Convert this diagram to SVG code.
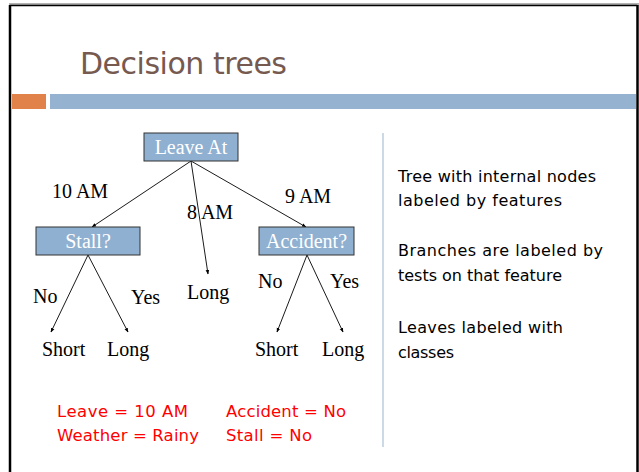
<svg xmlns="http://www.w3.org/2000/svg" width="639" height="472" viewBox="0 0 639 472">
  <style>
    .node rect { fill: #8fb0d0; stroke: #333; stroke-width: 1; }
    .node text { fill: #fff; font-family: "Liberation Serif", serif; font-size: 20px; text-anchor: middle; }
    .lbl { fill: #000; font-family: "Liberation Serif", serif; font-size: 20px; }
    .edge { stroke: #000; stroke-width: 0.9; fill: none; marker-end: url(#arrow); }
    .note { fill: #ff0000; font-family: "DejaVu Sans", sans-serif; font-size: 16.5px; }
    .bullet { fill: #000; font-family: "DejaVu Sans", sans-serif; font-size: 16px; }
  </style>
  <defs>
    <marker id="arrow" viewBox="0 0 10 10" refX="9" refY="5" markerWidth="5" markerHeight="5" orient="auto">
      <path d="M0,1 L10,5 L0,9 z" fill="#000"/>
    </marker>
  </defs>

  <!-- slide background and frame -->
  <rect width="639" height="472" fill="#fff"/>
  <line x1="9" y1="4" x2="639" y2="4" stroke="#999" stroke-width="1.5"/>
  <line x1="10" y1="5" x2="10" y2="472" stroke="#000" stroke-width="2.5"/>
  <line x1="10" y1="5.5" x2="637" y2="5.5" stroke="#000" stroke-width="1.5"/>
  <line x1="637.5" y1="5" x2="637.5" y2="472" stroke="#000" stroke-width="2.5"/>

  <!-- title and header bars -->
  <text x="80" y="74" font-family="DejaVu Sans, sans-serif" font-size="30" fill="#765a50" textLength="207">Decision trees</text>
  <rect x="12" y="94" width="34" height="15" fill="#e0824a"/>
  <rect x="50" y="94" width="586" height="15" fill="#95b3d1"/>

  <!-- column separator -->
  <line x1="383" y1="133" x2="383" y2="447" stroke="#a9c0d8" stroke-width="1.2"/>

  <!-- connectors -->
  <g id="edges">
    <line class="edge" x1="191" y1="161" x2="92" y2="227"/>
    <line class="edge" x1="191" y1="161" x2="208" y2="274"/>
    <line class="edge" x1="191" y1="161" x2="306" y2="227"/>
    <line class="edge" x1="88" y1="255" x2="51" y2="332"/>
    <line class="edge" x1="88" y1="255" x2="128" y2="332"/>
    <line class="edge" x1="307" y1="255" x2="277" y2="332"/>
    <line class="edge" x1="307" y1="255" x2="343" y2="332"/>
  </g>

  <!-- branch labels -->
  <g id="branch-labels">
    <text class="lbl" x="52" y="198">10 AM</text>
    <text class="lbl" x="187" y="219">8 AM</text>
    <text class="lbl" x="285" y="203">9 AM</text>
    <text class="lbl" x="33" y="303">No</text>
    <text class="lbl" x="131" y="304">Yes</text>
    <text class="lbl" x="258" y="288">No</text>
    <text class="lbl" x="330" y="288">Yes</text>
  </g>

  <!-- internal nodes -->
  <g id="node-leave" class="node">
    <rect x="144" y="133" width="94" height="28"/>
    <text x="191" y="154">Leave At</text>
  </g>
  <g id="node-stall" class="node">
    <rect x="36" y="227" width="104" height="28"/>
    <text x="88" y="248">Stall?</text>
  </g>
  <g id="node-accident" class="node">
    <rect x="259" y="227" width="95" height="28"/>
    <text x="306.5" y="248">Accident?</text>
  </g>

  <!-- leaves -->
  <g id="leaf-8am"><text class="lbl" x="187" y="299">Long</text></g>
  <g id="leaf-stall-no"><text class="lbl" x="42" y="356">Short</text></g>
  <g id="leaf-stall-yes"><text class="lbl" x="107" y="356">Long</text></g>
  <g id="leaf-acc-no"><text class="lbl" x="255" y="356">Short</text></g>
  <g id="leaf-acc-yes"><text class="lbl" x="322" y="356">Long</text></g>

  <!-- example instance -->
  <g id="example">
    <text class="note" x="57" y="417" textLength="131">Leave = 10 AM</text>
    <text class="note" x="57" y="441" textLength="142">Weather = Rainy</text>
    <text class="note" x="226" y="417" textLength="120">Accident = No</text>
    <text class="note" x="226" y="441" textLength="86">Stall = No</text>
  </g>

  <!-- bullet text -->
  <g id="notes">
    <text class="bullet" x="398" y="182" textLength="198">Tree with internal nodes</text>
    <text class="bullet" x="398" y="206" textLength="164">labeled by features</text>
    <text class="bullet" x="398" y="256" textLength="205">Branches are labeled by</text>
    <text class="bullet" x="398" y="281" textLength="164">tests on that feature</text>
    <text class="bullet" x="398" y="333" textLength="165">Leaves labeled with</text>
    <text class="bullet" x="398" y="358" textLength="56">classes</text>
  </g>
</svg>
